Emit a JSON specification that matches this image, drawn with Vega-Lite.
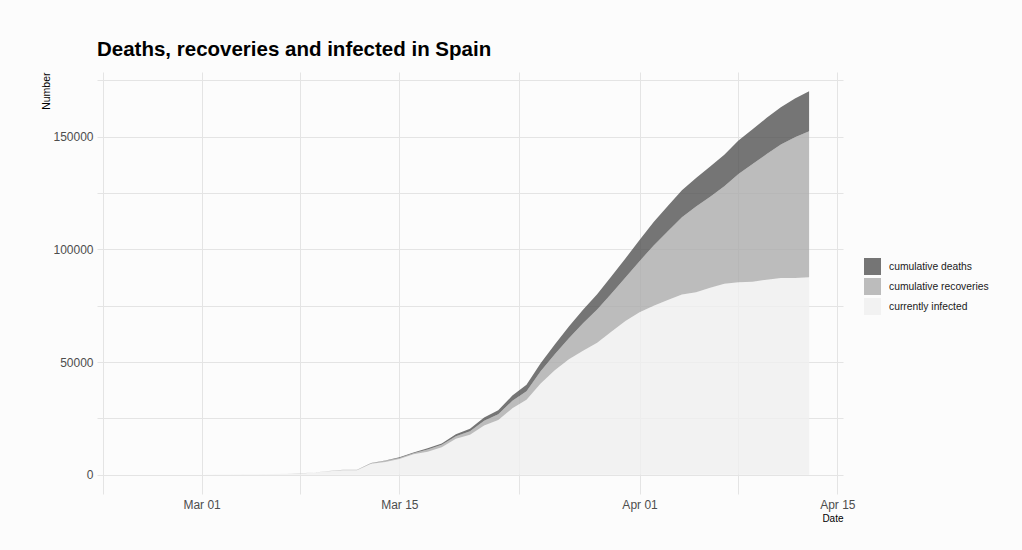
{
  "$schema": "https://vega.github.io/schema/vega-lite/v6.json",
  "width": 746,
  "height": 422,
  "autosize": {"type": "none"},
  "padding": {"left": 97, "top": 72, "right": 179, "bottom": 56},
  "background": "#fcfcfc",
  "title": {
    "text": "Deaths, recoveries and infected in Spain",
    "anchor": "start",
    "frame": "group",
    "font": "Liberation Sans",
    "fontSize": 20.5,
    "fontWeight": "bold",
    "color": "#000000",
    "offset": 12
  },
  "data": {
    "values": [
      {"date": "2020-02-25", "infected": 4, "recoveries": 2, "deaths": 0},
      {"date": "2020-02-26", "infected": 11, "recoveries": 2, "deaths": 0},
      {"date": "2020-02-27", "infected": 13, "recoveries": 2, "deaths": 0},
      {"date": "2020-02-28", "infected": 30, "recoveries": 2, "deaths": 0},
      {"date": "2020-02-29", "infected": 43, "recoveries": 2, "deaths": 0},
      {"date": "2020-03-01", "infected": 82, "recoveries": 2, "deaths": 0},
      {"date": "2020-03-02", "infected": 118, "recoveries": 2, "deaths": 0},
      {"date": "2020-03-03", "infected": 162, "recoveries": 2, "deaths": 1},
      {"date": "2020-03-04", "infected": 218, "recoveries": 2, "deaths": 2},
      {"date": "2020-03-05", "infected": 254, "recoveries": 2, "deaths": 3},
      {"date": "2020-03-06", "infected": 393, "recoveries": 2, "deaths": 5},
      {"date": "2020-03-07", "infected": 488, "recoveries": 2, "deaths": 10},
      {"date": "2020-03-08", "infected": 626, "recoveries": 30, "deaths": 17},
      {"date": "2020-03-09", "infected": 1013, "recoveries": 32, "deaths": 28},
      {"date": "2020-03-10", "infected": 1628, "recoveries": 32, "deaths": 35},
      {"date": "2020-03-11", "infected": 2040, "recoveries": 183, "deaths": 54},
      {"date": "2020-03-12", "infected": 2039, "recoveries": 183, "deaths": 55},
      {"date": "2020-03-13", "infected": 4906, "recoveries": 193, "deaths": 133},
      {"date": "2020-03-14", "infected": 5679, "recoveries": 517, "deaths": 195},
      {"date": "2020-03-15", "infected": 6992, "recoveries": 517, "deaths": 289},
      {"date": "2020-03-16", "infected": 9070, "recoveries": 530, "deaths": 342},
      {"date": "2020-03-17", "infected": 10187, "recoveries": 1028, "deaths": 533},
      {"date": "2020-03-18", "infected": 12206, "recoveries": 1081, "deaths": 623},
      {"date": "2020-03-19", "infected": 16026, "recoveries": 1107, "deaths": 830},
      {"date": "2020-03-20", "infected": 17779, "recoveries": 1588, "deaths": 1043},
      {"date": "2020-03-21", "infected": 21874, "recoveries": 2125, "deaths": 1375},
      {"date": "2020-03-22", "infected": 24256, "recoveries": 2575, "deaths": 1772},
      {"date": "2020-03-23", "infected": 29470, "recoveries": 3355, "deaths": 2311},
      {"date": "2020-03-24", "infected": 33283, "recoveries": 3794, "deaths": 2808},
      {"date": "2020-03-25", "infected": 40501, "recoveries": 5367, "deaths": 3647},
      {"date": "2020-03-26", "infected": 46406, "recoveries": 7015, "deaths": 4365},
      {"date": "2020-03-27", "infected": 51224, "recoveries": 9357, "deaths": 5138},
      {"date": "2020-03-28", "infected": 54968, "recoveries": 12285, "deaths": 5982},
      {"date": "2020-03-29", "infected": 58598, "recoveries": 14709, "deaths": 6803},
      {"date": "2020-03-30", "infected": 63460, "recoveries": 16780, "deaths": 7716},
      {"date": "2020-03-31", "infected": 68200, "recoveries": 19259, "deaths": 8464},
      {"date": "2020-04-01", "infected": 72084, "recoveries": 22647, "deaths": 9387},
      {"date": "2020-04-02", "infected": 74974, "recoveries": 26743, "deaths": 10348},
      {"date": "2020-04-03", "infected": 77488, "recoveries": 30513, "deaths": 11198},
      {"date": "2020-04-04", "infected": 80002, "recoveries": 34219, "deaths": 11947},
      {"date": "2020-04-05", "infected": 80925, "recoveries": 38080, "deaths": 12641},
      {"date": "2020-04-06", "infected": 82897, "recoveries": 40437, "deaths": 13341},
      {"date": "2020-04-07", "infected": 84689, "recoveries": 43208, "deaths": 14045},
      {"date": "2020-04-08", "infected": 85407, "recoveries": 48021, "deaths": 14792},
      {"date": "2020-04-09", "infected": 85610, "recoveries": 52165, "deaths": 15447},
      {"date": "2020-04-10", "infected": 86524, "recoveries": 55668, "deaths": 16081},
      {"date": "2020-04-11", "infected": 87312, "recoveries": 59109, "deaths": 16606},
      {"date": "2020-04-12", "infected": 87231, "recoveries": 62391, "deaths": 17209},
      {"date": "2020-04-13", "infected": 87616, "recoveries": 64727, "deaths": 17756}
    ]
  },
  "transform": [
    {"fold": ["infected", "recoveries", "deaths"], "as": ["key", "value"]},
    {"calculate": "datum.key === 'deaths' ? 'cumulative deaths' : datum.key === 'recoveries' ? 'cumulative recoveries' : 'currently infected'", "as": "series"},
    {"calculate": "datum.key === 'deaths' ? 3 : datum.key === 'recoveries' ? 2 : 1", "as": "stackorder"}
  ],
  "mark": {"type": "area", "opacity": 0.8, "interpolate": "linear"},
  "encoding": {
    "x": {
      "field": "date",
      "type": "temporal",
      "scale": {
        "type": "utc",
        "domain": [
          {"year": 2020, "month": 2, "date": 22, "hours": 14, "minutes": 24, "utc": true},
          {"year": 2020, "month": 4, "date": 15, "hours": 9, "minutes": 36, "utc": true}
        ]
      },
      "axis": {
        "title": "Date",
        "values": [
          {"year": 2020, "month": 2, "date": 23, "utc": true},
          {"year": 2020, "month": 3, "date": 1, "utc": true},
          {"year": 2020, "month": 3, "date": 8, "utc": true},
          {"year": 2020, "month": 3, "date": 15, "utc": true},
          {"year": 2020, "month": 3, "date": 23, "hours": 12, "utc": true},
          {"year": 2020, "month": 4, "date": 1, "utc": true},
          {"year": 2020, "month": 4, "date": 8, "utc": true},
          {"year": 2020, "month": 4, "date": 15, "utc": true}
        ],
        "format": "%b %d",
        "labelExpr": "(utcdate(datum.value) == 1 || utcdate(datum.value) == 15) && utchours(datum.value) == 0 ? datum.label : ''",
        "titleAnchor": "end",
        "titlePadding": 3,
        "labelPadding": 5,
        "labelOverlap": false
      }
    },
    "y": {
      "field": "value",
      "type": "quantitative",
      "stack": "zero",
      "scale": {"domain": [-8505, 178604], "nice": false, "zero": false},
      "axis": {
        "title": "Number",
        "values": [0, 25000, 50000, 75000, 100000, 125000, 150000, 175000],
        "labelExpr": "datum.value % 50000 == 0 ? datum.value : ''",
        "titleAnchor": "end",
        "titlePadding": 1,
        "titleFontSize": 10.5,
        "labelPadding": 4
      }
    },
    "color": {
      "field": "series",
      "type": "nominal",
      "scale": {
        "domain": ["cumulative deaths", "cumulative recoveries", "currently infected"],
        "range": ["#535353", "#ababab", "#efefef"]
      },
      "legend": {
        "title": null,
        "orient": "none",
        "legendX": 767,
        "legendY": 186,
        "symbolType": "square",
        "symbolSize": 289,
        "symbolStrokeWidth": 0,
        "symbolOpacity": 0.8,
        "labelFont": "Liberation Sans",
        "labelFontSize": 10.3,
        "labelColor": "#1a1a1a",
        "rowPadding": 3,
        "labelOffset": 8
      }
    },
    "order": {"field": "stackorder", "type": "quantitative"}
  },
  "config": {
    "view": {"stroke": null},
    "axis": {
      "domain": false,
      "ticks": false,
      "grid": true,
      "gridColor": "#e4e4e4",
      "gridWidth": 1,
      "labelFont": "Liberation Sans",
      "labelFontSize": 12,
      "labelColor": "#4d4d4d",
      "titleFont": "Liberation Sans",
      "titleFontSize": 10,
      "titleFontWeight": "normal",
      "titleColor": "#000000"
    }
  }
}
